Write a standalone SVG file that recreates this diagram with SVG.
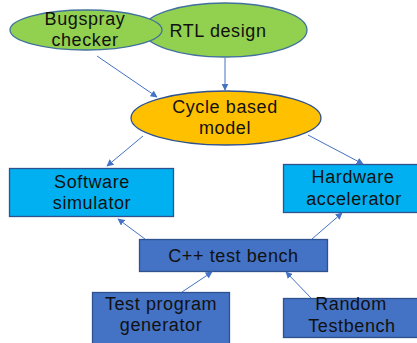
<svg xmlns="http://www.w3.org/2000/svg" width="417" height="343" viewBox="0 0 417 343">
<defs>
<style>
.t{font-family:"Liberation Sans",Arial,sans-serif;font-size:18px;letter-spacing:0.6px;fill:#111;text-anchor:middle}
.green{fill:#92D050;stroke:#41719C;stroke-width:1.3}
.gold{fill:#FFC000;stroke:#2F528F;stroke-width:1.3}
.cyan{fill:#00B0F0;stroke:#2F528F;stroke-width:1.3}
.blue{fill:#4472C4;stroke:#2F528F;stroke-width:1.3}
.c{stroke:#4472C4;stroke-width:1;fill:none;marker-end:url(#ah)}
</style>
<marker id="ah" viewBox="0 0 10 10" refX="9" refY="5" markerWidth="7" markerHeight="7" markerUnits="userSpaceOnUse" orient="auto">
<path d="M0,0 L10,5 L0,10 z" fill="#4472C4"/>
</marker>
</defs>
<rect width="417" height="343" fill="#fff"/>
<g id="rtl">
<ellipse class="green" cx="225" cy="30" rx="82" ry="27"/>
<text class="t" x="218" y="37">RTL design</text>
</g>
<g id="bugspray">
<ellipse class="green" cx="86" cy="30" rx="76" ry="20"/>
<text class="t" x="85" y="25">Bugspray</text>
<text class="t" x="85" y="46">checker</text>
</g>
<g id="cycle">
<ellipse class="gold" cx="226" cy="118" rx="95" ry="27"/>
<text class="t" x="225" y="113">Cycle based</text>
<text class="t" x="225" y="134">model</text>
</g>
<g id="software">
<rect class="cyan" x="9.5" y="168.5" width="164" height="48"/>
<text class="t" x="92" y="188">Software</text>
<text class="t" x="92" y="209">simulator</text>
</g>
<g id="hardware">
<rect class="cyan" x="283.5" y="164.5" width="140" height="48"/>
<text class="t" x="353" y="183">Hardware</text>
<text class="t" x="354" y="205">accelerator</text>
</g>
<g id="cpp">
<rect class="blue" x="139.5" y="239.5" width="188" height="32"/>
<text class="t" x="233.5" y="262">C++ test bench</text>
</g>
<g id="testprog">
<rect class="blue" x="92.5" y="292.5" width="137" height="52"/>
<text class="t" x="161" y="310">Test program</text>
<text class="t" x="161" y="331">generator</text>
</g>
<g id="random">
<rect class="blue" x="283.5" y="298.5" width="140" height="39"/>
<text class="t" x="351" y="310">Random</text>
<text class="t" x="352" y="332">Testbench</text>
</g>
<g id="connectors">
<line class="c" x1="97" y1="56" x2="157" y2="97"/>
<line class="c" x1="225" y1="58" x2="225" y2="90"/>
<line class="c" x1="143" y1="136" x2="107" y2="166"/>
<line class="c" x1="308" y1="135" x2="363" y2="164"/>
<line class="c" x1="145" y1="239" x2="118" y2="219"/>
<line class="c" x1="312" y1="239" x2="342" y2="213"/>
<line class="c" x1="182" y1="292" x2="212" y2="272"/>
<line class="c" x1="311" y1="298" x2="286" y2="272"/>
</g>
</svg>
